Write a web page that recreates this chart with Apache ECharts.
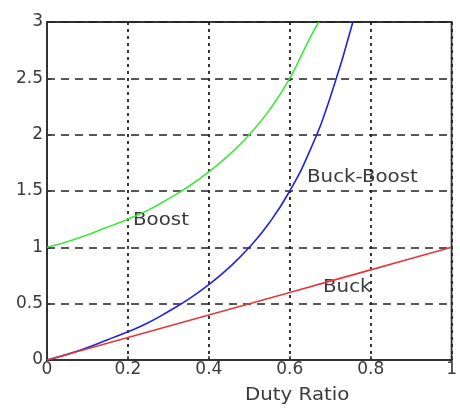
<!DOCTYPE html>
<html>
<head>
<meta charset="utf-8">
<script src="https://cdn.jsdelivr.net/npm/echarts@6/dist/echarts.min.js"></script>
<style>
  html, body { margin: 0; padding: 0; background: #fff; }
  #chart { width: 460px; height: 408px; }
</style>
</head>
<body>
<div id="chart"></div>
<script>
// Conversion ratio vs duty ratio for the three basic converters
const dutyBoost = [0, 0.05, 0.1, 0.15, 0.2, 0.25, 0.3, 0.35, 0.4, 0.45, 0.5, 0.55, 0.6, 0.65, 0.672];
const gainBoost = [1, 1.05, 1.11, 1.18, 1.25, 1.33, 1.43, 1.54, 1.67, 1.82, 2.0, 2.22, 2.5, 2.86, 3.0];

const dutyBuckBoost = [0, 0.05, 0.1, 0.15, 0.2, 0.25, 0.3, 0.35, 0.4, 0.45, 0.5, 0.55, 0.6, 0.65, 0.7, 0.756];
const gainBuckBoost = [0, 0.05, 0.11, 0.18, 0.25, 0.33, 0.43, 0.54, 0.67, 0.82, 1.0, 1.22, 1.5, 1.86, 2.33, 3.0];

const dutyBuck = [0, 0.1, 0.2, 0.3, 0.4, 0.5, 0.6, 0.7, 0.8, 0.9, 1.0];
const gainBuck = [0, 0.1, 0.2, 0.3, 0.4, 0.5, 0.6, 0.7, 0.8, 0.9, 1.0];

const xTicks = [0, 0.2, 0.4, 0.6, 0.8, 1];
const yTicks = [0, 0.5, 1, 1.5, 2, 2.5, 3];

const pairs = (xs, ys) => xs.map((x, i) => [x, ys[i]]);

const chart = echarts.init(document.getElementById('chart'));
const font = '"DejaVu Sans", Verdana, sans-serif';
const ink = '#3a3a3a';

// in-plot captions, slightly widened like the axis text
const caption = (text, left, top) => ({
  type: 'text', x: left, y: top, scaleX: 1.1,
  style: { text, font: '18px ' + font, fill: ink }
});

chart.setOption({
  animation: false,
  backgroundColor: '#fff',
  grid: {
    left: 47, top: 22, right: 3, bottom: 48,
    show: true, borderColor: '#333', borderWidth: 1.8
  },
  xAxis: {
    type: 'value', min: 0, max: 1, interval: 0.2,
    axisLine: { show: true, lineStyle: { color: '#333', width: 1.8 } },
    axisTick: { show: true, inside: true, length: 4, lineStyle: { color: '#333', width: 1.5 } },
    axisLabel: {
      fontFamily: font, fontSize: 17, color: ink, margin: 1,
      formatter: v => xTicks.includes(+v.toFixed(2)) ? String(+v.toFixed(2)) : ''
    },
    splitLine: { show: true, lineStyle: { color: '#222', width: 1.8, type: [3, 4] } }
  },
  yAxis: {
    type: 'value', min: 0, max: 3, interval: 0.5,
    axisLine: { show: true, lineStyle: { color: '#333', width: 1.8 } },
    axisTick: { show: true, inside: true, length: 4, lineStyle: { color: '#333', width: 1.5 } },
    axisLabel: {
      fontFamily: font, fontSize: 17, color: ink, margin: 4,
      padding: [0, 0, 9, 0],
      formatter: v => yTicks.includes(+v.toFixed(2)) ? String(+v.toFixed(2)) : ''
    },
    splitLine: { show: true, lineStyle: { color: '#222', width: 1.5, type: [8, 6] } }
  },
  series: [
    {
      name: 'Boost', type: 'line', data: pairs(dutyBoost, gainBoost),
      smooth: true, showSymbol: false, clip: true,
      lineStyle: { color: '#40e640', width: 1.6 }
    },
    {
      name: 'Buck-Boost', type: 'line', data: pairs(dutyBuckBoost, gainBuckBoost),
      smooth: true, showSymbol: false, clip: true,
      lineStyle: { color: '#2222dd', width: 1.6 }
    },
    {
      name: 'Buck', type: 'line', data: pairs(dutyBuck, gainBuck),
      showSymbol: false, clip: true,
      lineStyle: { color: '#e23a3a', width: 1.6 }
    }
  ],
  graphic: [
    caption('Boost', 133, 211),
    caption('Buck-Boost', 307, 168),
    caption('Buck', 323, 278),
    caption('Duty Ratio', 245, 386)
  ]
});
</script>
</body>
</html>
